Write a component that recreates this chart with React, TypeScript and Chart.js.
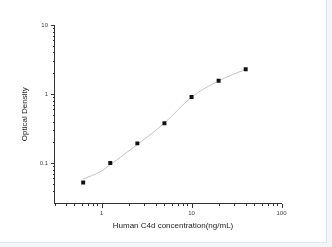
import React, { useEffect, useRef } from "react";
import { Chart, registerables } from "chart.js";

Chart.register(...registerables);

// Standards (ng/mL) and measured optical density
const concentrations = [0.625, 1.25, 2.5, 5, 10, 20, 40];
const opticalDensity = [0.0524, 0.1, 0.193, 0.378, 0.904, 1.56, 2.29];

// Fitted curve
const fitConcentrations = [0.625, 1, 1.25, 2.5, 5, 10, 20, 40];
const fitDensity = [0.0588, 0.0765, 0.095, 0.186, 0.38, 0.9, 1.55, 2.28];

// Labelled (major) ticks
const xMajorTicks = [1, 10, 100];
const xMajorLabels = ["1", "10", "100"];
const yMajorTicks = [0.1, 1, 10];
const yMajorLabels = ["0.1", "1", "10"];

const xTitle = "Human C4d concentration(ng/mL)";
const yTitle = "Optical Density";

const FONT = "'Liberation Sans', Arial, sans-serif";

function labelFor(value: number, majors: number[], labels: string[]) {
  for (let i = 0; i < majors.length; i++) {
    if (Math.abs(value - majors[i]) / majors[i] < 1e-6) return labels[i];
  }
  return "";
}

function isIntSignificand(v: number) {
  const e = Math.floor(Math.log10(v) + 1e-9);
  const sig = v / Math.pow(10, e);
  return { ok: Math.abs(sig - Math.round(sig)) < 1e-6, major: Math.abs(sig - 1) < 1e-6 };
}

const tickPlugin = {
  id: "logTickMarks",
  afterDraw(chart: any) {
    const ctx = chart.ctx;
    const xs = chart.scales.x;
    const ys = chart.scales.y;
    const area = chart.chartArea;
    ctx.save();
    ctx.strokeStyle = "#333";
    ctx.lineWidth = 1;
    for (const t of xs.ticks) {
      const info = isIntSignificand(t.value);
      if (!info.ok) continue;
      const px = Math.round(xs.getPixelForValue(t.value)) + 0.5;
      const y0 = Math.round(area.bottom);
      ctx.beginPath();
      ctx.moveTo(px, y0);
      ctx.lineTo(px, y0 + (info.major ? 4 : 2));
      ctx.stroke();
    }
    for (const t of ys.ticks) {
      const info = isIntSignificand(t.value);
      if (!info.ok) continue;
      const py = Math.round(ys.getPixelForValue(t.value)) + 0.5;
      const x0 = Math.round(area.left);
      ctx.beginPath();
      ctx.moveTo(x0, py);
      ctx.lineTo(x0 - (info.major ? 4 : 2), py);
      ctx.stroke();
    }
    // axis titles
    ctx.fillStyle = "#222";
    ctx.font = `8px ${FONT}`;
    ctx.textAlign = "center";
    ctx.textBaseline = "middle";
    ctx.fillText(xTitle, (area.left + area.right) / 2 + 5, area.bottom + 22.5);
    ctx.translate(area.left - 29.5, (area.top + area.bottom) / 2);
    ctx.rotate(-Math.PI / 2);
    ctx.fillText(yTitle, 0, 0);
    ctx.restore();
  },
};

export default function App() {
  const canvasRef = useRef<HTMLCanvasElement | null>(null);

  useEffect(() => {
    document.body.style.margin = "0";
    const canvas = canvasRef.current;
    if (!canvas) return;
    const chart = new Chart(canvas, {
      type: "scatter",
      data: {
        datasets: [
          {
            label: "OD",
            data: concentrations.map((c, i) => ({ x: c, y: opticalDensity[i] })),
            pointStyle: "rect",
            pointRadius: 2.8,
            pointBorderWidth: 0,
            backgroundColor: "#111",
            borderColor: "#111",
            showLine: false,
          },
          {
            label: "Fit",
            data: fitConcentrations.map((c, i) => ({ x: c, y: fitDensity[i] })),
            showLine: true,
            pointRadius: 0,
            borderColor: "#c4c4c4",
            borderWidth: 1,
            cubicInterpolationMode: "monotone",
            fill: false,
          },
        ],
      },
      options: {
        animation: false,
        responsive: false,
        maintainAspectRatio: false,
        devicePixelRatio: 1,
        layout: { padding: { left: 0, top: 25, right: 50.5, bottom: 0 } },
        plugins: {
          legend: { display: false },
          tooltip: { enabled: false },
        },
        scales: {
          x: {
            type: "logarithmic",
            min: 0.3,
            max: 100,
            grid: { display: false, drawTicks: false },
            border: { display: true, color: "#333", width: 1 },
            ticks: {
              autoSkip: false,
              maxRotation: 0,
              padding: 6,
              color: "#444",
              font: { size: 6, family: FONT },
              callback: (v: any) => labelFor(Number(v), xMajorTicks, xMajorLabels),
            },
            afterFit: (s: any) => {
              s.height = 43.5;
            },
          },
          y: {
            type: "logarithmic",
            min: 0.026,
            max: 10,
            grid: { display: false, drawTicks: false },
            border: { display: true, color: "#333", width: 1 },
            ticks: {
              autoSkip: false,
              padding: 6.5,
              color: "#444",
              font: { size: 6, family: FONT },
              callback: (v: any) => labelFor(Number(v), yMajorTicks, yMajorLabels),
            },
            afterFit: (s: any) => {
              s.width = 54.5;
            },
          },
        },
      },
      plugins: [tickPlugin],
    } as any);
    return () => chart.destroy();
  }, []);

  return (
    <div style={{ position: "relative", width: 332, height: 247, background: "#f3f6f9" }}>
      <div
        style={{
          position: "absolute",
          left: 0,
          top: 0,
          width: 326,
          height: 242,
          background: "#fff",
          borderRight: "1px solid #dfe6ec",
          borderBottom: "1px solid #dfe6ec",
        }}
      />
      <canvas
        ref={canvasRef}
        width={332}
        height={247}
        style={{ position: "absolute", left: 0, top: 0, width: 332, height: 247 }}
      />
    </div>
  );
}
